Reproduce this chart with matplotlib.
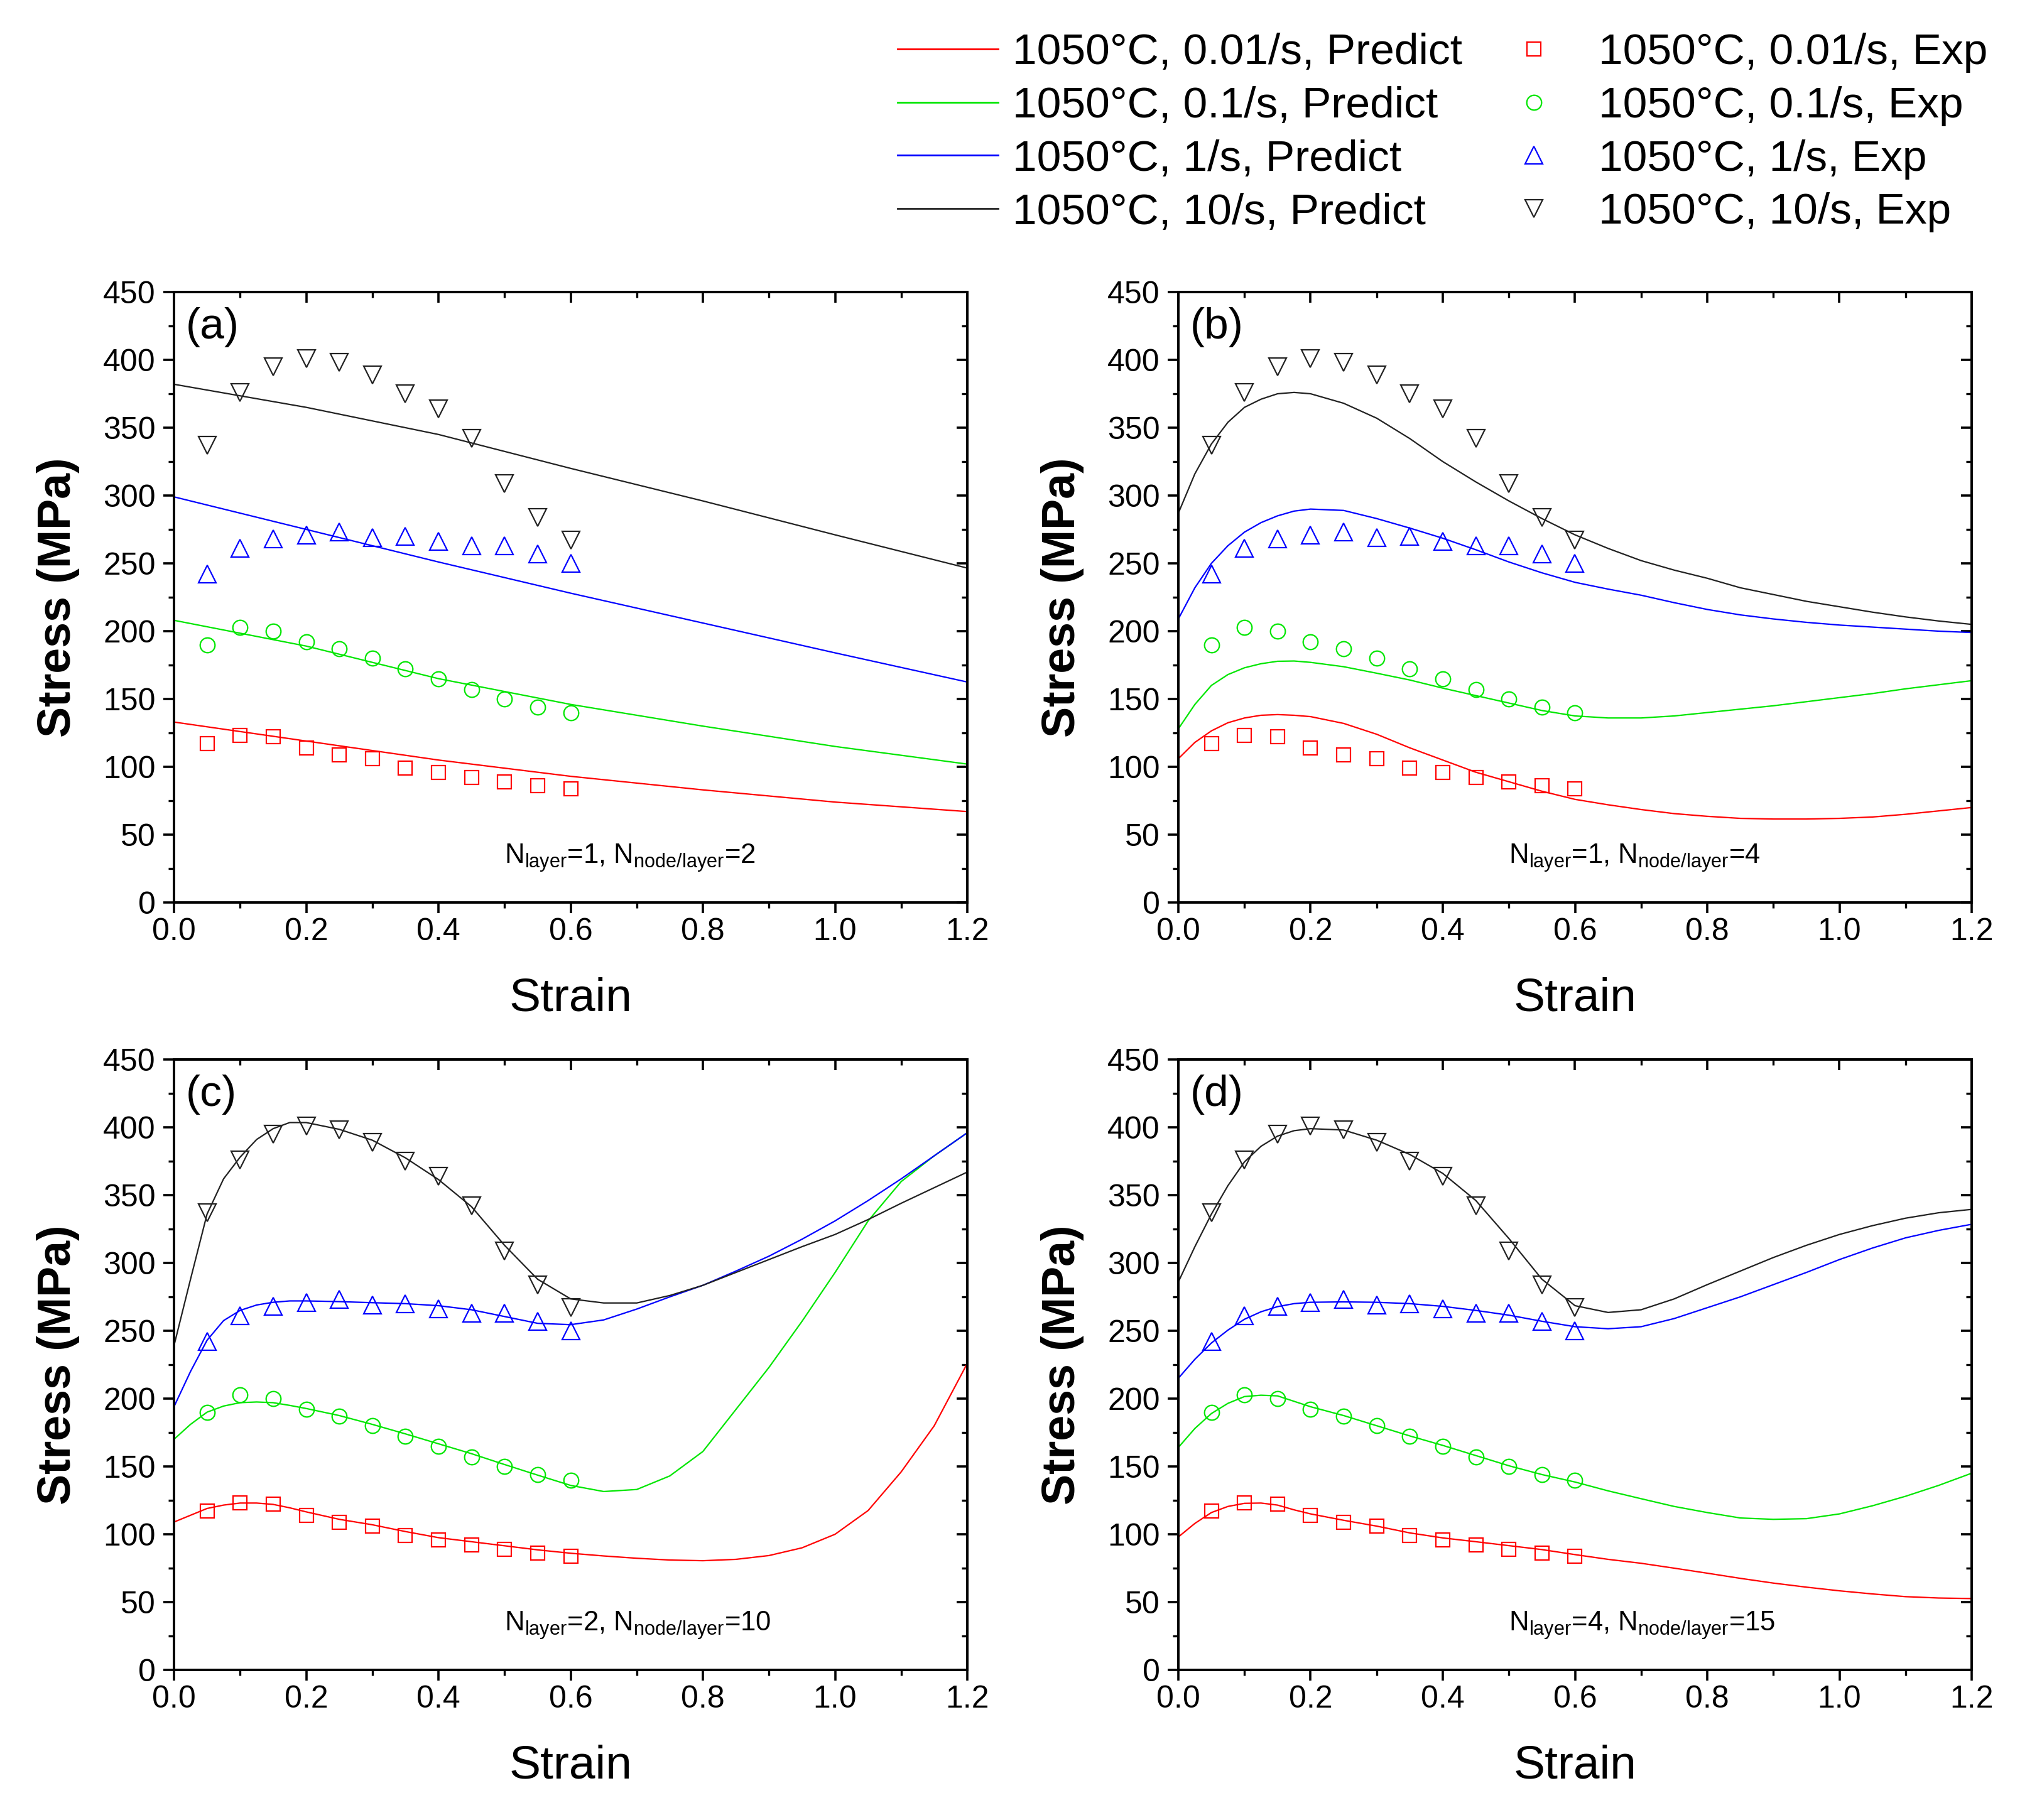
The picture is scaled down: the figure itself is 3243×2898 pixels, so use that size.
import numpy as np
import matplotlib
matplotlib.use("Agg")
import matplotlib.pyplot as plt
from matplotlib.lines import Line2D
from matplotlib.ticker import MultipleLocator, FormatStrFormatter

plt.rcParams['font.family'] = ['Liberation Sans', 'DejaVu Sans']
plt.rcParams['mathtext.fontset'] = 'custom'
plt.rcParams['mathtext.rm'] = 'Liberation Sans'

# ---------------- data ----------------
rates = ["0.01/s", "0.1/s", "1/s", "10/s"]
colors = ["#ff0000", "#00e600", "#0000ff", "#222222"]
markers = ["s", "o", "^", "v"]

exp_strain = [0.05, 0.10, 0.15, 0.20, 0.25, 0.30, 0.35, 0.40, 0.45, 0.50, 0.55, 0.60]
exp_001 = [117, 123, 122, 114, 109, 106, 99, 96, 92, 89, 86, 84]
exp_01 = [190, 203, 200, 192, 187, 180, 172, 165, 157, 150, 144, 140]
exp_1 = [242, 261, 268, 271, 273, 269, 270, 266, 263, 263, 257, 250]
exp_10 = [337, 376, 395, 401, 398, 389, 375, 364, 342, 309, 284, 267]

# panel (a): N_layer=1, N_node/layer=2
strain_a = [0.0, 0.2, 0.4, 0.6, 0.8, 1.0, 1.2]
a_001 = [133, 119, 105, 93, 83, 74, 67]
a_01 = [208, 189, 165, 146, 130, 115, 102]
a_1 = [299, 275, 251, 228, 206, 184, 162.5]
a_10 = [382, 365, 345, 320, 296, 271, 246.5]

# common strain grid for panels (b)-(d)
strain_g = [0.0, 0.025, 0.05, 0.075, 0.1, 0.125, 0.15, 0.175, 0.2, 0.25, 0.3, 0.35,
            0.4, 0.45, 0.5, 0.55, 0.6, 0.65, 0.7, 0.75, 0.8, 0.85, 0.9, 0.95, 1.0,
            1.05, 1.1, 1.15, 1.2]

# panel (b): N_layer=1, N_node/layer=4
b_001 = [106, 118, 126.5, 132.5, 136, 138, 138.5, 138, 137, 132, 124, 114, 105, 96, 89,
         82, 76, 72, 68.5, 65.5, 63.5, 62, 61.5, 61.5, 62, 63, 65, 67.5, 70]
b_01 = [128, 146, 160, 168, 173, 176, 177.8, 178, 177, 173.8, 169, 164, 158, 152.5, 147,
        141.5, 137.5, 136, 136, 137.5, 140, 142.5, 145, 148, 151, 154, 157.5, 160.5, 163.5]
b_1 = [209, 232, 250, 263, 273, 280, 285, 288.5, 290, 289, 283, 276, 268.5, 260, 251,
       243, 236, 231, 226.5, 221, 216, 212, 209, 206.5, 204.5, 203, 201.5, 200, 199]
b_10 = [287, 316, 338, 354, 365, 371, 375, 376, 375, 368, 357, 342, 325, 310, 296,
        283, 271, 261, 252, 245, 239, 232, 227, 222, 218, 214, 210.5, 207.5, 205]

# panel (c): N_layer=2, N_node/layer=10
c_001 = [109, 114, 119, 121.5, 123, 123, 122, 119.5, 116.5, 111, 107, 102, 97.5, 94.5,
         91.5, 88.5, 86, 84, 82.3, 81, 80.5, 81.5, 84.3, 90, 100, 117.5, 146, 180, 226]
c_01 = [170, 181, 190, 194.5, 197, 197.5, 197, 195, 192.7, 187.5, 181, 174, 166.7, 159.4,
        151.4, 143.6, 136, 131.5, 133, 143, 161, 192, 223, 257, 293, 331, 360, 379, 396]
c_1 = [194, 220, 243, 257.5, 265, 269, 271, 272, 272, 271.5, 270.7, 270, 268.5, 265.5,
       260.5, 255.5, 254.5, 258, 266, 275, 283.5, 294, 305, 317.5, 331, 346, 362, 379, 396]
c_10 = [239, 288, 336, 362, 378, 391, 399, 403.5, 403.5, 398.5, 390.5, 377.5, 361.5, 341.5,
        313, 288, 273.5, 270.5, 270.5, 276, 283.5, 293, 302.5, 312, 321, 332, 344, 355.5, 367]

# panel (d): N_layer=4, N_node/layer=15
d_001 = [98, 108, 116, 120.5, 122.8, 123, 121.5, 118, 115, 110.3, 106, 101, 97.3, 94.5,
         91.6, 88.7, 85, 81.5, 78.6, 75, 71.3, 67.5, 64, 61, 58.3, 56, 54, 53, 52.6]
d_01 = [164, 178, 189, 196.5, 201.5, 202.5, 202, 198, 194, 187.5, 180, 172.5, 165.5, 158,
        150.5, 144, 138.5, 132, 126.2, 120.5, 116, 112, 111, 111.5, 115, 121, 128, 136, 145]
d_1 = [215, 229, 241, 250.5, 258.5, 264, 267.8, 270, 271, 271.3, 271, 270, 268, 265,
       261.5, 257, 253, 251.5, 253, 259, 267, 275, 284, 293, 302.5, 311, 318.5, 324, 328.5]
d_10 = [286, 312, 336, 357, 374.5, 386, 393.5, 397.5, 399, 398, 390.5, 380, 366, 346,
        318, 288, 268.5, 263.5, 265.5, 273.5, 284, 294, 304, 313, 321, 327.5, 333, 337, 339.5]

panel_labels = ["(a)", "(b)", "(c)", "(d)"]
panel_notes = [(1, 2), (1, 4), (2, 10), (4, 15)]

panels = [
    (strain_a, [a_001, a_01, a_1, a_10]),
    (strain_g, [b_001, b_01, b_1, b_10]),
    (strain_g, [c_001, c_01, c_1, c_10]),
    (strain_g, [d_001, d_01, d_1, d_10]),
]
exp_sets = [exp_001, exp_01, exp_1, exp_10]
marker_sizes = [16, 17, 20, 20]

# ---------------- figure ----------------
W, H = 3243, 2898
fig = plt.figure(figsize=(W / 100, H / 100), dpi=100)

ax_lefts = [277, 1876, 277, 1876]
ax_tops = [465, 465, 1687, 1687]
ax_w, ax_h = 1263, 972

for i, (xs, curves) in enumerate(panels):
    l = ax_lefts[i] / W
    b = 1 - (ax_tops[i] + ax_h) / H
    ax = fig.add_axes([l, b, ax_w / W, ax_h / H])
    for k in range(4):
        ax.plot(xs, curves[k], color=colors[k], lw=1.6, zorder=2)
    for k in range(4):
        ax.plot(exp_strain, exp_sets[k], linestyle='none', marker=markers[k],
                ms=marker_sizes[k], mfc='none', mec=colors[k], mew=1.6, zorder=3)
    ax.set_xlim(0, 1.2)
    ax.set_ylim(0, 450)
    ax.xaxis.set_major_locator(MultipleLocator(0.2))
    ax.xaxis.set_minor_locator(MultipleLocator(0.1))
    ax.yaxis.set_major_locator(MultipleLocator(50))
    ax.yaxis.set_minor_locator(MultipleLocator(25))
    ax.xaxis.set_major_formatter(FormatStrFormatter('%.1f'))
    ax.yaxis.set_major_formatter(FormatStrFormatter('%d'))
    for s in ax.spines.values():
        s.set_linewidth(2.8)
    ax.tick_params(axis='both', which='major', direction='out', length=12, width=2.6,
                   labelsize=36)
    ax.tick_params(axis='both', which='minor', direction='out', length=6.5, width=2.4)
    ax.tick_params(axis='x', which='major', pad=5)
    ax.tick_params(axis='y', which='major', pad=9)

    # mirrored ticks on top / right pointing inward
    sx = ax.secondary_xaxis('top')
    sx.xaxis.set_major_locator(MultipleLocator(0.2))
    sx.xaxis.set_minor_locator(MultipleLocator(0.1))
    sx.tick_params(which='major', direction='in', length=12, width=2.6, labeltop=False)
    sx.tick_params(which='minor', direction='in', length=6.5, width=2.4)
    sx.spines['top'].set_linewidth(2.8)
    sy = ax.secondary_yaxis('right')
    sy.yaxis.set_major_locator(MultipleLocator(50))
    sy.yaxis.set_minor_locator(MultipleLocator(25))
    sy.tick_params(which='major', direction='in', length=12, width=2.6, labelright=False)
    sy.tick_params(which='minor', direction='in', length=6.5, width=2.4)
    sy.spines['right'].set_linewidth(2.8)

    ax.set_xlabel("Strain", fontsize=54)
    ax.xaxis.set_label_coords(0.5, -0.157)
    ax.xaxis.label.set_va('center')
    ax.set_ylabel("Stress (MPa)", fontsize=53, fontweight='bold')
    ax.yaxis.set_label_coords(-0.146, 0.5)
    ax.yaxis.label.set_va('center')

    ax.text(0.015, 0.975, panel_labels[i], transform=ax.transAxes, fontsize=50,
            ha='left', va='top')
    nl, nn = panel_notes[i]
    ax.text(0.5, 33, r'N$_{\mathregular{layer}}$=%d, N$_{\mathregular{node/layer}}$=%d' % (nl, nn),
            fontsize=31.5, ha='left', va='center')

# legend
handles = []
labels = []
for k in range(4):
    handles.append(Line2D([], [], color=colors[k], lw=2.0))
    labels.append("1050°C, %s, Predict" % rates[k])
for k in range(4):
    handles.append(Line2D([], [], linestyle='none', marker=markers[k], ms=marker_sizes[k],
                          mfc='none', mec=colors[k], mew=1.6))
    labels.append("1050°C, %s, Exp" % rates[k])

fig.legend(handles, labels, ncol=2, loc='upper left',
           bbox_to_anchor=(1429 / W, 1 - 52 / H), frameon=False, fontsize=50,
           handlelength=2.3, handletextpad=0.33, columnspacing=0.5,
           labelspacing=0.30, borderpad=0, borderaxespad=0)

fig.savefig("out.png", dpi=100)
